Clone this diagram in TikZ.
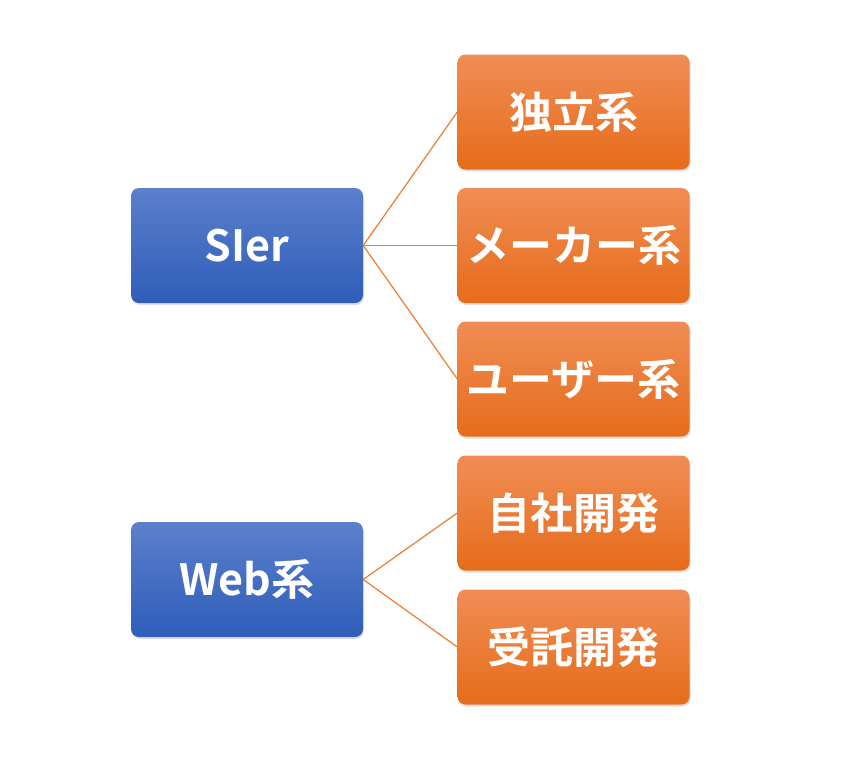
\documentclass[tikz,border=0pt]{standalone}
\usepackage{fontspec}
\setmainfont{Noto Sans CJK JP}[BoldFont={* Bold}]
\usetikzlibrary{shadows}
\definecolor{btop}{HTML}{5B80CC}
\definecolor{bbot}{HTML}{2F5DB9}
\definecolor{otop}{HTML}{F08D55}
\definecolor{obot}{HTML}{E66C1A}
\definecolor{conn}{HTML}{ED7D31}
\tikzset{
  boxbase/.style={rounded corners=8pt, minimum width=232pt, minimum height=115pt,
    text=white, font=\fontsize{43}{50}\selectfont\bfseries, inner sep=0pt,
    drop shadow={opacity=0.25, shadow xshift=1pt, shadow yshift=-2pt}},
  bluebox/.style={boxbase, top color=btop, bottom color=bbot},
  orangebox/.style={boxbase, top color=otop, bottom color=obot},
  link/.style={draw=conn, line width=1.2pt}
}
\begin{document}
\begin{tikzpicture}[x=1pt,y=-1pt]
\useasboundingbox (0,0) rectangle (847,766);
\node[bluebox] (sier) at (247,245.5) {SIer};
\node[bluebox] (web) at (247,579.5) {Web系};
\node[orangebox] (o1) at (573.5,112) {独立系};
\node[orangebox] (o2) at (573.5,245.5) {メーカー系};
\node[orangebox] (o3) at (573.5,379) {ユーザー系};
\node[orangebox] (o4) at (573.5,513) {自社開発};
\node[orangebox] (o5) at (573.5,647) {受託開発};
\draw[link] (sier.east) -- (o1.west);
\draw[link] (sier.east) -- (o2.west);
\draw[link] (sier.east) -- (o3.west);
\draw[link] (web.east) -- (o4.west);
\draw[link] (web.east) -- (o5.west);
\end{tikzpicture}
\end{document}
